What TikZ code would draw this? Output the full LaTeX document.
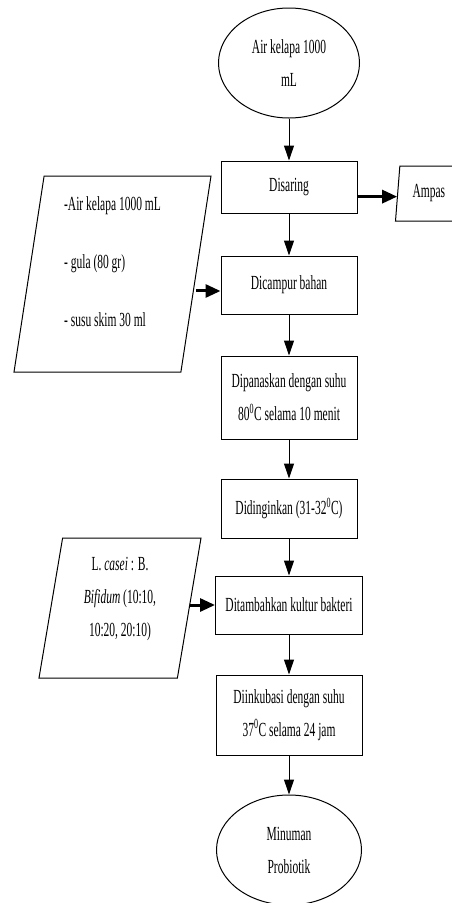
\documentclass[tikz,border=0pt]{standalone}
\usepackage{fontspec}
\setmainfont[FakeStretch=0.575]{Liberation Serif}
\usepackage{tikz}
\usetikzlibrary{shapes, arrows.meta, positioning}
\tikzset{
    proses/.style={
        rectangle,
        draw=black,
        line width=1pt,
        align=center,
        inner sep=2pt,
    },
    terminal/.style={
        ellipse,
        draw=black,
        line width=1pt,
        align=center,
        inner sep=0pt,
    },
    masukan/.style={
        trapezium,
        trapezium stretches body,
        draw=black,
        line width=1pt,
        inner sep=0pt,
    },
    tebal/.style={
        line width=3pt,
        -{Triangle[length=15pt, width=13pt]},
    },
}

\begin{document}
\begin{tikzpicture}[x=1pt, y=-1pt, >={Triangle[length=15pt, width=10pt]}, line width=1pt,
    every node/.style={font=\fontsize{20pt}{33pt}\selectfont}]
      \useasboundingbox (0,0) rectangle (451,903);
      \node [terminal, minimum width=141pt, minimum height=110pt] (Air) at (289,63) {Air kelapa 1000\\mL};
      \node [proses, minimum width=136pt, minimum height=52pt] (Disaring) [below of=Air, node distance=124pt] {Disaring};
      \node [proses, minimum width=136pt, minimum height=58pt] (Dicampur) [below of=Disaring, node distance=98pt] {Dicampur bahan};
      \node [proses, minimum width=136pt, minimum height=83pt] (Dipanaskan) [below of=Dicampur, node distance=112.5pt] {Dipanaskan dengan suhu\\80\textsuperscript{0}C selama 10 menit};
      \node [proses, minimum width=136pt, minimum height=59pt] (Didinginkan) [below of=Dipanaskan, node distance=111pt] {Didinginkan (31-32\textsuperscript{0}C)};
      \node [proses, minimum width=147pt, minimum height=58pt] (Ditambahkan) [below of=Didinginkan, node distance=96.5pt] {Ditambahkan kultur bakteri};
      \node [proses, minimum width=146pt, minimum height=80pt] (Diinkubasi) [below of=Ditambahkan, node distance=110pt] {Diinkubasi dengan suhu\\37\textsuperscript{0}C selama 24 jam};
      \node [terminal, minimum width=145pt, minimum height=110pt] (Minuman) [below of=Diinkubasi, node distance=135pt] {Minuman\\Probiotik};

      % bahan masuk dan keluar
      \node [masukan, trapezium left angle=76, trapezium right angle=104, minimum width=81pt, minimum height=55pt, text width=47pt, align=left] (Ampas) [right of=Disaring, node distance=147pt, yshift=-6.5pt] {Ampas};
      \node [masukan, trapezium left angle=79, trapezium right angle=101, minimum width=197pt, minimum height=196pt, align=left] (Bahan) [left of=Dicampur, node distance=176.5pt, yshift=11pt] {-Air kelapa 1000 mL\\[25pt] - gula (80 gr)\\[25pt] - susu skim 30 ml\\[-8pt]\mbox{}};
      \node [masukan, trapezium left angle=77, trapezium right angle=103, minimum width=162pt, minimum height=140pt, align=center] (Kultur) [left of=Ditambahkan, node distance=169pt, yshift=-3pt] {L. \textit{casei} : B.\\\textit{Bifidum} (10:10,\\10:20, 20:10)\\[-10pt]\mbox{}};

      \draw[->] (Air) -- (Disaring);
      \draw[->] (Disaring) -- (Dicampur);
      \draw[->] (Dicampur) -- (Dipanaskan);
      \draw[->] (Dipanaskan) -- (Didinginkan);
      \draw[->] (Didinginkan) -- (Ditambahkan);
      \draw[->] (Ditambahkan) -- (Diinkubasi);
      \draw[->] (Diinkubasi) -- (Minuman);
      \draw[tebal] (Disaring.352) -- (Disaring.352 -| Ampas.west);
      \draw[tebal] (Bahan.east |- Dicampur.185) -- (Dicampur.185);
      \draw[tebal] (Kultur.east |- Ditambahkan.west) -- (Ditambahkan.west);
    \end{tikzpicture}
\end{document}
